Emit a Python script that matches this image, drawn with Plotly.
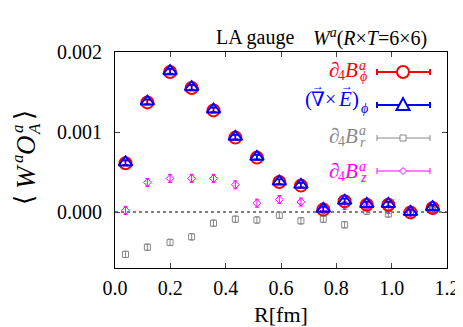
import plotly.graph_objects as go

# ---- data ----
R_fm = [0.038, 0.117, 0.199, 0.277, 0.356, 0.435, 0.513, 0.594, 0.672, 0.753, 0.830, 0.910, 0.988, 1.068, 1.148]

dB_phi = [0.00061, 0.00137, 0.00175, 0.00155, 0.00127, 0.00093, 0.00068, 0.000375, 0.00033, 0.00003, 0.000135, 0.00009, 0.00009, -0.000005, 0.00005]
dB_phi_err = [0.00003, 0.00003, 0.00003, 0.00003, 0.00003, 0.00003, 0.00003, 0.00003, 0.00003, 0.00003, 0.00003, 0.00003, 0.00003, 0.00003, 0.00003]

curlE_phi = [0.00062, 0.00138, 0.00176, 0.00156, 0.00128, 0.00094, 0.00069, 0.00038, 0.00034, 0.00004, 0.00014, 0.0001, 0.0001, 0.0, 0.00006]
curlE_phi_err = [0.00003, 0.00003, 0.00003, 0.00003, 0.00003, 0.00003, 0.00003, 0.00003, 0.00003, 0.00003, 0.00003, 0.00003, 0.00003, 0.00003, 0.00003]

dB_r = [-0.00053, -0.00044, -0.00038, -0.00031, -0.00014, -0.00009, -0.0001, -0.00004, -0.00011, -0.00009, -0.00016, 0.00001, -0.000025, -0.00001, 0.00003]
dB_r_err = [0.00004, 0.00004, 0.00004, 0.00004, 0.00004, 0.00004, 0.00004, 0.00004, 0.00004, 0.00004, 0.00004, 0.00004, 0.00004, 0.00004, 0.00004]

dB_z = [0.00002, 0.00037, 0.00042, 0.00042, 0.00042, 0.00034, 0.00011, 0.000155, 0.000125, 0.00003, 0.00008, 0.00007, 0.00003, -0.00001, 0.00003]
dB_z_err = [0.00005, 0.00005, 0.00005, 0.00005, 0.00005, 0.00005, 0.00005, 0.00005, 0.00005, 0.00005, 0.00005, 0.00005, 0.00005, 0.00005, 0.00005]

x_ticks = [0.0, 0.2, 0.4, 0.6, 0.8, 1.0, 1.2]
y_ticks = [0.0, 0.001, 0.002]

RED = "#ff0000"
BLUE = "#0000ff"
GRAY = "#888888"
MAG = "#ff00ff"
FONT = "'Liberation Serif', 'Times New Roman', 'DejaVu Serif', serif"

fig = go.Figure()

def add(y, err, color, symbol, size, lw, ew, cap):
    fig.add_trace(go.Scatter(
        x=R_fm, y=y, mode="markers",
        marker=dict(symbol=symbol, size=size, color=color, line=dict(color=color, width=lw)),
        error_y=dict(type="data", array=err, visible=True, color=color, thickness=ew, width=cap),
        showlegend=False,
    ))

add(dB_r, dB_r_err, GRAY, "square-open", 6, 1, 1, 2)
add(dB_z, dB_z_err, MAG, "diamond-open", 6, 1, 1, 2)
add(dB_phi, dB_phi_err, RED, "circle-open", 12, 2, 1.5, 3)
add(curlE_phi, curlE_phi_err, BLUE, "triangle-up-open", 12, 2, 1.5, 3)

# plot-area geometry (pixels) used to place the hand-made legend/labels
L, T, PW, PH = 107.0, 44.0, 332.0, 216.0

def px(xp):
    return (xp - L) / PW

def py(yp):
    return (T + PH - yp) / PH

shapes = [
    dict(type="line", xref="x", yref="y", x0=0, x1=1.2, y0=0, y1=0,
         line=dict(color="black", width=1, dash="3px,3px"), layer="below"),
]
annotations = []

def txt(x, y, s, size, color="black", xanchor="center", angle=0):
    annotations.append(dict(xref="paper", yref="paper", x=px(x), y=py(y), text=s,
                            showarrow=False, xanchor=xanchor, yanchor="middle", textangle=angle,
                            font=dict(family=FONT, size=size, color=color)))

# ---- manual legend: label pieces (stacked super/subscripts), then the error-bar sample ----
def dB_label(yc, sub, color):
    txt(326, yc, "∂", 21, color)
    txt(333.5, yc + 5, "4", 14, color)
    txt(343.5, yc, "<i>B</i>", 21, color)
    txt(354.5, yc - 5, "<i>a</i>", 14, color)
    txt(355, yc + 6, sub, 14, color)

dB_label(62, "<i>ϕ</i>", RED)
dB_label(128, "<i>r</i>", GRAY)
dB_label(163, "<i>z</i>", MAG)

txt(300, 91, "(", 21, BLUE)
txt(310, 91, "∇", 20, BLUE)
txt(322, 91, "×", 20, BLUE)
txt(337, 91, "<i>E</i>", 21, BLUE)
txt(347.5, 91, ")", 21, BLUE)
txt(356, 100, "<i>ϕ</i>", 14, BLUE)
txt(310, 78, "→", 12, BLUE)
txt(338.5, 78, "→", 12, BLUE)

legend_samples = [(RED, 64, "circle", 2), (BLUE, 97, "triangle", 2), (GRAY, 130, "square", 1), (MAG, 163, "diamond", 1)]
for col, yy, sym, lw in legend_samples:
    yp = py(yy)
    shapes.append(dict(type="line", xref="paper", yref="paper", x0=px(369), x1=px(422), y0=yp, y1=yp,
                       line=dict(color=col, width=lw)))
    for xe in (369, 422):
        shapes.append(dict(type="line", xref="paper", yref="paper", x0=px(xe), x1=px(xe),
                           y0=yp - 3 / PH, y1=yp + 3 / PH, line=dict(color=col, width=lw)))
    xc = px(395)
    if sym == "circle":
        r = 6.0
        shapes.append(dict(type="circle", xref="paper", yref="paper", x0=xc - r / PW, x1=xc + r / PW,
                           y0=yp - r / PH, y1=yp + r / PH, line=dict(color=col, width=2), fillcolor="white"))
    elif sym == "triangle":
        h = 6.5
        path = "M {} {} L {} {} L {} {} Z".format(xc - h / PW, yp - 5 / PH, xc + h / PW, yp - 5 / PH, xc, yp + 7 / PH)
        shapes.append(dict(type="path", xref="paper", yref="paper", path=path,
                           line=dict(color=col, width=2), fillcolor="white"))
    elif sym == "square":
        s = 3.0
        shapes.append(dict(type="rect", xref="paper", yref="paper", x0=xc - s / PW, x1=xc + s / PW,
                           y0=yp - s / PH, y1=yp + s / PH, line=dict(color=col, width=1), fillcolor="white"))
    else:
        s = 3.5
        path = "M {} {} L {} {} L {} {} L {} {} Z".format(xc - s / PW, yp, xc, yp + s / PH, xc + s / PW, yp, xc, yp - s / PH)
        shapes.append(dict(type="path", xref="paper", yref="paper", path=path,
                           line=dict(color=col, width=1), fillcolor="white"))

# ---- title ----
txt(206, 29, "LA gauge", 20, "black", xanchor="left")
txt(421, 29, "<i>W</i><sup><i>a</i></sup>(<i>R</i>×<i>T</i>=6×6)", 20, "black", xanchor="right")

# ---- y-axis label (rotated, pieces for stacked indices) ----
txt(16, 192, "⟨", 26, angle=-90)
txt(18, 169, "<i>W</i>", 27, angle=-90)
txt(9, 151, "<i>a</i>", 17, angle=-90)
txt(18, 137, "<i>O</i>", 27, angle=-90)
txt(9, 121, "<i>a</i>", 17, angle=-90)
txt(26, 121, "<i>A</i>", 17, angle=-90)
txt(16, 107, "⟩", 26, angle=-90)

fig.update_layout(
    width=463, height=327,
    margin=dict(l=107, r=24, t=44, b=67),
    paper_bgcolor="white", plot_bgcolor="white",
    shapes=shapes, annotations=annotations,
    font=dict(family=FONT, size=20, color="black"),
    xaxis=dict(range=[0, 1.2], tickvals=x_ticks, ticktext=["{:.1f}".format(v) for v in x_ticks],
               ticks="inside", ticklen=5, showline=True, linecolor="black", linewidth=1,
               mirror="ticks", showgrid=False, zeroline=False, ticklabelstandoff=2,
               title=dict(text="R[fm]", font=dict(family=FONT, size=22), standoff=8),
               tickfont=dict(family=FONT, size=20)),
    yaxis=dict(range=[-0.0007, 0.002], tickvals=y_ticks, ticktext=["{:.3f}".format(v) for v in y_ticks],
               ticks="inside", ticklen=5, showline=True, linecolor="black", linewidth=1,
               mirror="ticks", showgrid=False, zeroline=False, ticklabelstandoff=8,
               tickfont=dict(family=FONT, size=20)),
)

fig.write_html("out.html")
